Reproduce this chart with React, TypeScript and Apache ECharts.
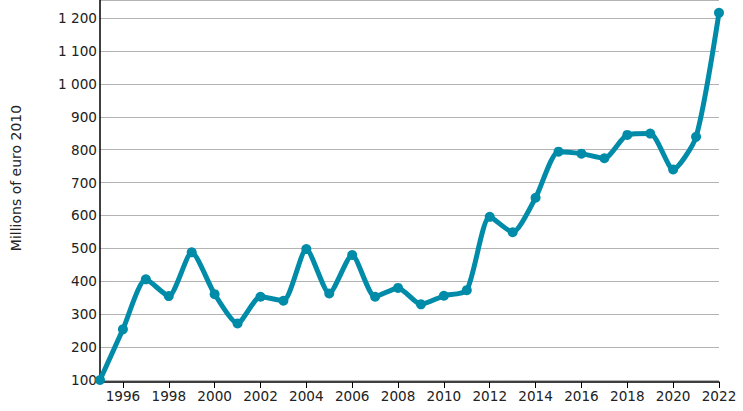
import React, { useEffect, useRef } from "react";
import * as echarts from "echarts";

const years = [
  "1995", "1996", "1997", "1998", "1999", "2000", "2001", "2002", "2003", "2004",
  "2005", "2006", "2007", "2008", "2009", "2010", "2011", "2012", "2013", "2014",
  "2015", "2016", "2017", "2018", "2019", "2020", "2021", "2022",
];
const values = [
  100, 254, 406, 355, 488, 361, 272, 353, 341, 498,
  363, 480, 353, 380, 330, 356, 373, 596, 549, 654,
  794, 788, 774, 845, 849, 740, 839, 1216,
];
const yAxisTitle = "Millions of euro 2010";

const fmt = (v: number) => {
  const s = String(Math.round(v));
  return s.replace(/\B(?=(\d{3})+(?!\d))/g, " ");
};

export default function App() {
  const ref = useRef<HTMLDivElement>(null);
  useEffect(() => {
    document.body.style.margin = "0";
    const chart = echarts.init(ref.current!, null, { renderer: "svg" });
    chart.setOption({
      animation: false,
      grid: { left: 100, right: 24, top: 0, bottom: 31 },
      graphic: [
        {
          type: "text",
          x: 16,
          y: 178,
          rotation: Math.PI / 2,
          style: {
            text: yAxisTitle,
            font: "14px 'DejaVu Sans'",
            fill: "#222",
            align: "center",
            verticalAlign: "middle",
          },
        },
      ],
      xAxis: {
        type: "category",
        data: years,
        boundaryGap: false,
        offset: 2,
        axisLine: { lineStyle: { color: "#000", width: 1.5 } },
        axisTick: {
          length: 6,
          lineStyle: { color: "#000" },
          interval: (i: number) => i % 2 === 1,
        },
        axisLabel: {
          interval: (i: number) => i % 2 === 1,
          fontFamily: "DejaVu Sans",
          fontSize: 13.6,
          color: "#222",
          margin: 7,
        },
        splitLine: { show: false },
      },
      yAxis: {
        type: "value",
        min: 100,
        max: 1255,
        interval: 100,
        axisLine: { show: true, lineStyle: { color: "#000", width: 1.5 } },
        axisTick: { show: false },
        axisLabel: {
          fontFamily: "DejaVu Sans",
          fontSize: 13.6,
          color: "#222",
          margin: 3,
          showMaxLabel: false,
          formatter: (v: number) => (v % 100 === 0 ? fmt(v) : ""),
        },
        splitLine: { lineStyle: { color: "#b3b3b3", width: 1 } },
      },
      series: [
        {
          type: "line",
          data: values,
          smooth: 0.22,
          symbol: "circle",
          symbolSize: 10,
          lineStyle: { color: "#008ba8", width: 5 },
          itemStyle: { color: "#008ba8" },
          clip: false,
        },
      ],
    });
    return () => chart.dispose();
  }, []);
  return <div ref={ref} style={{ width: 743, height: 411 }} />;
}
